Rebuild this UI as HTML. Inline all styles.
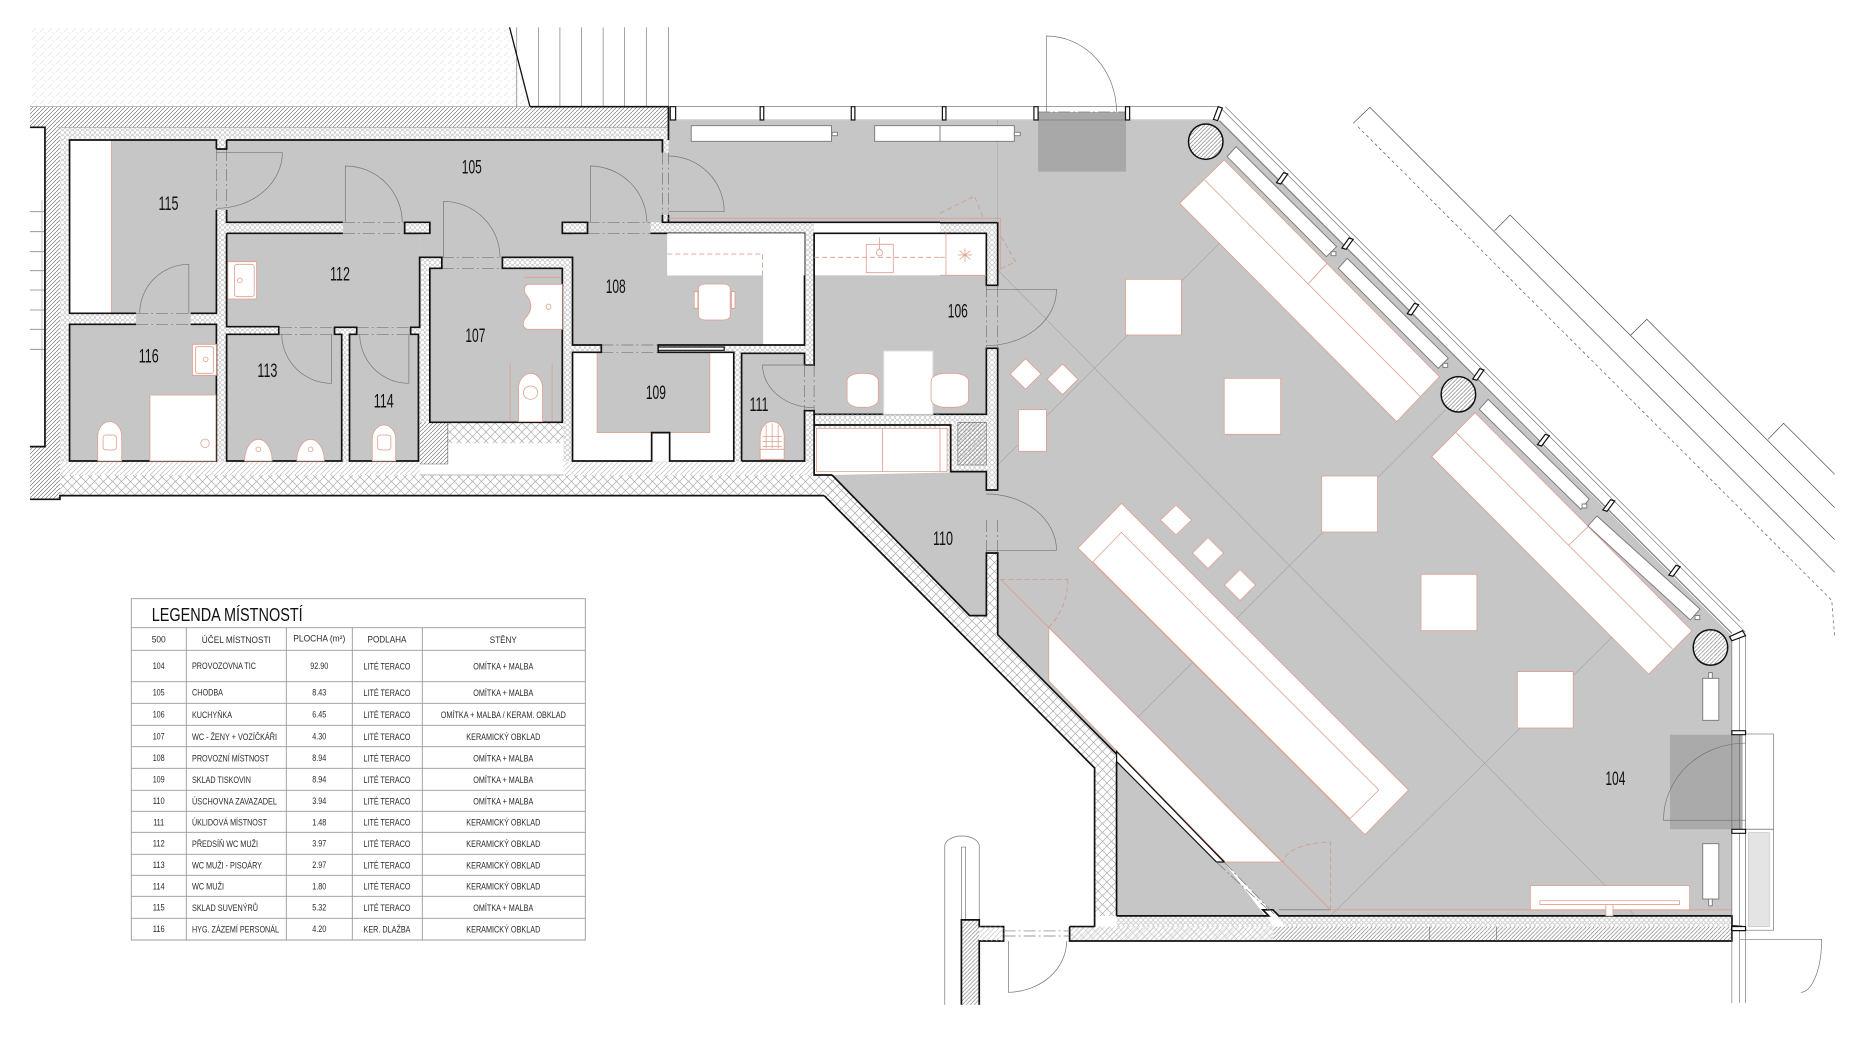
<!DOCTYPE html>
<html><head><meta charset="utf-8"><style>
html,body{margin:0;padding:0;background:#fff}
svg{display:block}
.t *{vector-effect:non-scaling-stroke}
text{font-family:"Liberation Sans",sans-serif;fill:#111}
.l text{font-size:8.8px;fill:#2a2a2a}
.rn{font-size:19px;text-anchor:middle}
.g{fill:#c6c6c6;stroke:none}
.k{fill:none;stroke:#111;stroke-width:1.7}
.dr{fill:none;stroke:#777;stroke-width:.7}
.s{fill:#fff;stroke:#dd9f8c;stroke-width:.8}
.sl{fill:none;stroke:#dd9f8c;stroke-width:.8}
.sd{fill:none;stroke:#d09a8a;stroke-width:.8;stroke-dasharray:5 3}
.dd{fill:none;stroke:#777;stroke-width:.7;stroke-dasharray:12 3 2 3}
.th{fill:none;stroke:#666;stroke-width:.6}
.gr{fill:none;stroke:#aaa;stroke-width:.6}
.bn{fill:#fff;stroke:#777;stroke-width:.9}
.m{fill:#fff;stroke:#111;stroke-width:1.2}
</style></head><body>
<svg width="1872" height="1046" viewBox="0 0 1872 1046" xmlns="http://www.w3.org/2000/svg">
<defs>
<pattern id="x" width="9" height="9" patternUnits="userSpaceOnUse"><path d="M-1 10L10 -1M-1 -1L10 10" stroke="#aaa" stroke-width=".7"/></pattern>
<pattern id="dA" width="4" height="4" patternUnits="userSpaceOnUse" patternTransform="scale(1.668 3)"><path d="M-1 5L5 -1" stroke="#777" stroke-width=".65"/></pattern>
<pattern id="dL" width="5" height="5" patternUnits="userSpaceOnUse" patternTransform="scale(1.668 3)"><path d="M-1 6L6 -1" stroke="#bdbdbd" stroke-width=".65"/></pattern>
<pattern id="xA" width="9" height="9" patternUnits="userSpaceOnUse" patternTransform="scale(1.668 3)"><path d="M-1 10L10 -1M-1 -1L10 10" stroke="#aaa" stroke-width=".7"/></pattern>
<pattern id="hA" width="5" height="5" patternUnits="userSpaceOnUse" patternTransform="scale(1.668 3)"><path d="M0 2.5L1.5 .5H3.5L5 2.5L3.5 4.5H1.5Z" fill="none" stroke="#b5b5b5" stroke-width=".55"/></pattern>
<pattern id="fA" width="8" height="8" patternUnits="userSpaceOnUse" patternTransform="scale(1.668 3)"><path d="M0 8L4 4M4 0L6 2" stroke="#e2e2e2" stroke-width=".7"/></pattern>
</defs>

<!-- main floor, real coordinates -->
<polygon class="g" points="668.5,120.7 1219.4,120.7 1732,635.7 1732,915.8 1276,915.8 1224,862 997.7,634.7 997.7,222.7 668.5,222.7"/>
<polygon class="g" points="1116.6,760 1224,862 1265,915.8 1116.6,915.8"/>
<polygon class="g" points="832,475 986.4,471.7 986.4,615.6 969.7,615.6"/>
<rect x="986" y="285" width="12" height="64" class="g"/><rect x="986" y="490" width="12" height="64" class="g"/>
<path d="M1219.4 243.3L997.7 465M1445.4 410L1138 717M1611.8 637.4L1330.6 915.8M997.7 270L1635 915.8" stroke="#a8a8a8" stroke-width=".7" fill="none"/>

<!-- LEFT BLOCK (crop A) -->
<g class="t" transform="scale(.5995 .33333)">
<polygon points="50,82 850,82 884,320 50,320" fill="url(#fA)"/>
<path d="M862 82V320M898 82V320M934 82V320M970 82V320M1006 82V320M1042 82V320M1078 82V320M1115 82V320" class="th"/>
<path d="M850 82L884 320" stroke="#111" stroke-width="1.3" fill="none"/>
<rect x="50" y="320" width="1065" height="62" fill="url(#dA)"/>
<rect x="100" y="382" width="1015" height="285" fill="url(#hA)"/>
<rect x="100" y="667" width="1258" height="718" fill="url(#hA)"/>
<rect x="100" y="1385" width="1260" height="40" fill="url(#dL)"/>
<rect x="100" y="1425" width="1290" height="62" fill="url(#xA)"/>
<rect x="75" y="382" width="25" height="1116" fill="url(#dA)"/>
<rect x="50" y="1340" width="25" height="158" fill="url(#dA)"/>
<path d="M50 635H75M50 695H75M50 755H75M50 812H75M50 870H75M50 930H75M50 988H75M50 1048H75" stroke="#888" stroke-width=".8" fill="none"/>
<path d="M70 600V1080" class="gr"/>
<path d="M50 320H884M97 382H1115" stroke="#999" stroke-width=".7" fill="none"/>
<path d="M884 320H1115V420" class="k"/>
<path d="M50 382H75V1340H50" class="k"/><path d="M50 1498H100V1487H1375" class="k"/>
<!-- rooms -->
<rect x="116" y="420" width="245" height="520" fill="#fff"/>
<rect x="186" y="420" width="175" height="520" class="g"/>
<path d="M186 420V940" class="sl"/>
<polygon class="g" points="378,420 1105,420 1105,667 938,667 938,700 955,700 955,772 700,772 700,700 717,700 717,667 378,667"/>
<rect x="378" y="700" width="322" height="280" class="g"/>
<rect x="116" y="973" width="245" height="410" class="g"/>
<rect x="378" y="1003" width="192" height="380" class="g"/>
<rect x="583" y="1003" width="115" height="380" class="g"/>
<rect x="717" y="805" width="221" height="462" class="g"/>
<rect x="955" y="700" width="387" height="335" fill="#fff"/>
<polygon class="g" points="955,700 1113,700 1113,826 1273,826 1273,1035 955,1035"/>
<rect x="955" y="1057" width="269" height="326" fill="#fff"/>
<rect x="996" y="1057" width="188" height="241" class="g"/>
<path d="M996 1057V1298H1184V1057" class="sl"/>
<rect x="1237" y="1060" width="105" height="323" class="g"/>
<rect x="1358" y="700" width="210" height="126" fill="#fff"/>
<rect x="1358" y="826" width="210" height="417" class="g"/>
<!-- door gaps -->
<g class="g">
<rect x="572" y="667" width="103" height="33"/><rect x="980" y="667" width="105" height="33"/>
<rect x="227" y="940" width="91" height="33"/><rect x="467" y="980" width="91" height="23"/>
<rect x="595" y="980" width="90" height="23"/><rect x="737" y="772" width="101" height="33"/>
<rect x="1003" y="1035" width="95" height="22"/><rect x="361" y="447" width="17" height="183"/>
<rect x="1105" y="458" width="10" height="187"/><rect x="1342" y="1095" width="16" height="137"/>
</g>
<g class="dd"><path d="M572 667H675M572 700H675M980 667H1085M980 700H1085M227 940H318M227 973H318M467 982H558M467 1003H558M595 982H685M595 1003H685M737 772H838M737 805H838M1003 1035H1098M1003 1057H1098M361 447V630M378 447V630M1105 458V645M1115 458V645M1342 1095V1232M1358 1095V1232"/></g>
<!-- white gap below 107 -->
<rect x="700" y="1267" width="240" height="158" fill="#fff"/>
<rect x="747" y="1267" width="193" height="63" fill="url(#xA)"/>
<rect x="700" y="1267" width="47" height="125" fill="url(#dA)"/>
<path d="M700 1392H747V1267" class="th"/>
<path d="M700 1425H940" stroke="#bbb" fill="none"/>
<!-- walls/outlines -->
<g class="k">
<path d="M361 447V420H116V940H227M318 940H361V630"/>
<path d="M378 420H1105V458M1105 645V667H1115V645M1115 667H1568"/>
<path d="M378 420V447H361M378 630V667H572M675 667H717V700H675ZM938 667H980V700H938Z"/>
<path d="M227 973H116V1383H361V973H318"/>
<path d="M378 700V980H465V1003H378V1383H570V1003H558V982H595V1003H583V1383H698V1003H685V982H700V772H737V805H717V1267H938V805H838V772H955V1035H1003V1057H955V1383H1087V1298H1117V1383H1224V1057H1098V1035H1342V700H1085M955 700H938M572 700H378M675 700H700"/>
<path d="M1237 1383H1342V1232H1358V1243H1568M1342 1095V1060H1237V1383M1342 1095H1358V700H1568"/>
</g>
<rect x="1098" y="1041" width="110" height="10" class="m"/>
<!-- doors -->
<g class="dr">
<path d="M361 458H471A110 167 0 0 1 361 625"/>
<path d="M576 667V498A95 170 0 0 1 671 667"/>
<path d="M740 772V604A95 168 0 0 1 834 772"/>
<path d="M985 667V498A95 170 0 0 1 1079 667"/>
<path d="M1115 468A93 167 0 0 1 1208 635H1115"/>
<path d="M315 940V793A82 147 0 0 0 233 940"/>
<path d="M470 1003A83 148 0 0 0 553 1150V1003"/>
<path d="M682 1003V1150A82 148 0 0 1 600 1003"/>
<path d="M1358 1095H1272A86 128 0 0 0 1358 1223"/>
</g>
<!-- furniture -->
<rect x="380" y="785" width="48" height="112" class="s"/><rect x="391" y="793" width="33" height="97" rx="6" class="s"/><ellipse cx="400" cy="841" rx="4" ry="7" class="s"/>
<rect x="321" y="1033" width="40" height="93" class="s"/><rect x="326" y="1040" width="30" height="80" rx="5" class="s"/><ellipse cx="343" cy="1078" rx="4" ry="7" class="s"/>
<rect x="250" y="1185" width="110" height="198" class="s"/><ellipse cx="342" cy="1330" rx="7" ry="13" class="s"/>
<path d="M163 1383V1310A20 45 0 0 1 203 1310V1383Z" class="s"/><rect x="172" y="1305" width="22" height="45" rx="6" class="s"/>
<path d="M408 1383A23 65 0 0 1 454 1383Z" class="s"/><ellipse cx="431" cy="1348" rx="4" ry="7" class="s"/>
<path d="M495 1383A23 65 0 0 1 541 1383Z" class="s"/><ellipse cx="518" cy="1348" rx="4" ry="7" class="s"/>
<path d="M621 1383V1310A20 45 0 0 1 660 1310V1383Z" class="s"/><rect x="630" y="1305" width="22" height="45" rx="6" class="s"/>
<path d="M880 853H938V988H880Q868 980 876 955Q895 920 876 880Q872 860 880 853Z" class="s"/><ellipse cx="915" cy="920" rx="4" ry="8" class="s"/>
<path d="M875 832H935" class="sl" stroke-width="1.5"/>
<path d="M851 1090V1265M921 1090V1265" class="sl"/>
<path d="M865 1265V1165A20 45 0 0 1 905 1165V1265Z" class="s"/><ellipse cx="885" cy="1178" rx="12" ry="20" class="s"/>
<rect x="1113" y="700" width="229" height="126" fill="#fff"/>
<path d="M1113 762H1272V826" class="sd"/>
<rect x="1165" y="852" width="53" height="108" rx="12" class="s"/><rect x="1158" y="875" width="6" height="50" class="s"/><rect x="1220" y="875" width="6" height="50" class="s"/>
<path d="M1268 1378V1310A20 45 0 0 1 1308 1310V1378Z" class="s"/><path d="M1272 1310H1304M1272 1325H1304M1272 1340H1304M1278 1275V1345M1288 1270V1345M1298 1275V1345" class="sl"/>
<rect x="1268" y="1348" width="40" height="30" class="s"/>
<rect x="1445" y="733" width="45" height="85" class="s"/><ellipse cx="1467" cy="758" rx="5" ry="10" class="s"/><path d="M1467 712V748" class="sl"/>
<path d="M1358 772H1568" class="sd"/>
<rect x="1474" y="1053" width="82" height="190" fill="#fff" stroke="#ddd"/>
<rect x="1413" y="1120" width="52" height="102" rx="22" class="s"/>
<!-- top benches -->
<rect x="1153" y="377" width="234" height="47" class="bn"/><rect x="1388" y="397" width="9" height="10" class="bn"/>
<rect x="1459" y="377" width="109" height="47" fill="#fff"/><path d="M1568 377H1459V424H1568" class="bn" fill="none"/>
<path d="M1115 655H1568" class="sl"/>
<path d="M1115 320H1568M1115 360H1568" class="th"/>
<rect x="1118" y="320" width="9" height="40" class="m"/><rect x="1268" y="320" width="6" height="40" class="m"/><rect x="1420" y="320" width="6" height="40" class="m"/>
<!-- storage 110 top -->
<rect x="1362" y="1285" width="206" height="130" class="s"/><path d="M1472 1285V1415" class="sl"/>
<rect x="1358" y="1243" width="210" height="42" fill="url(#hA)"/>
<path d="M1358 1275H1568" class="k"/>
<path d="M1358 1243V1425H1388" class="k"/>
</g>

<!-- RIGHT TOP (crop B) -->
<g class="t" transform="translate(940 0) scale(.5945 .33333)">
<rect x="0" y="700" width="78" height="126" fill="#fff"/>
<rect x="0" y="826" width="78" height="417" class="g"/>
<rect x="78" y="668" width="19" height="188" fill="url(#hA)"/>
<rect x="0" y="668" width="78" height="32" fill="url(#hA)"/>
<rect x="78" y="1045" width="19" height="425" fill="url(#hA)"/>
<rect x="0" y="1243" width="78" height="30" fill="url(#hA)"/>
<rect x="12" y="1273" width="66" height="142" fill="url(#hA)"/>
<rect x="30" y="1267" width="48" height="128" fill="url(#dA)"/><rect x="30" y="1267" width="48" height="128" class="th"/>
<rect x="0" y="1285" width="12" height="130" class="s"/>
<path d="M0 700H78V856H97V668H0" class="k"/>
<path d="M0 1243H78V1045H97V1470H78V1415H18V1275H0" class="k"/>
<path d="M10 700V826M0 826H78M0 772H8" class="sl"/><path d="M30 765H54M42 745V785M33 752L51 778M51 752L33 778" class="sl"/>
<rect x="-15" y="1120" width="63" height="102" rx="24" class="s"/>
<path d="M0 655H102V810" class="sl"/>
<path d="M0 640L58 588L73 655M103 710L127 785L100 808" class="sd"/>
<path d="M78 856V1045" class="dd"/><path d="M97 856V1045" class="dd"/>
<path d="M97 360V668" class="gr"/>
<!-- top door zone -->
<rect x="165" y="336" width="148" height="179" fill="#a8a8a8"/>
<path d="M179 336V108A118 228 0 0 1 297 336" class="dr"/>
<path d="M165 336H313" class="dd"/>
<rect x="0" y="377" width="125" height="47" class="bn"/><rect x="125" y="397" width="10" height="10" class="bn"/>
<path d="M78 868H196A118 169 0 0 1 78 1037" class="dr"/>
<path d="M78 1482A118 169 0 0 1 196 1651H78" class="dr"/>
<path d="M0 320H470M0 360H462" class="th"/>
<path d="M470 320L1355 1897M480 320L1345 1863" class="th"/>
<path d="M470 362L1332 1900" stroke="#858585" stroke-width="1.3" fill="none"/>
<!-- column and mullions -->
<ellipse cx="447" cy="425" rx="29" ry="53" fill="#fff"/><ellipse cx="447" cy="425" rx="29" ry="53" fill="url(#dA)" stroke="#111" stroke-width="1.5"/>
<ellipse cx="872" cy="1183" rx="29" ry="53" fill="#fff"/><ellipse cx="872" cy="1183" rx="29" ry="53" fill="url(#dA)" stroke="#111" stroke-width="1.5"/>
<g class="m">
<rect x="4" y="320" width="6" height="40"/><rect x="158" y="320" width="7" height="40"/><rect x="312" y="320" width="7" height="40"/>
<polygon points="468,320 475,324 467,362 460,358"/>
<polygon points="578,518 585,522 573,552 566,548"/>
<polygon points="688,714 695,718 683,748 676,744"/>
<polygon points="798,910 805,914 793,945 786,941"/>
<polygon points="908,1106 915,1110 903,1141 896,1137"/>
<polygon points="1018,1303 1025,1307 1012,1338 1005,1334"/>
<polygon points="1128,1499 1135,1503 1122,1534 1115,1530"/>
</g>
<!-- window benches -->
<polygon class="bn" points="498,440 667,740 650,770 483,470"/><rect x="658" y="755" width="8" height="12" class="bn"/>
<polygon class="bn" points="685,775 855,1075 838,1105 670,805"/><rect x="846" y="1090" width="8" height="12" class="bn"/>
<polygon class="bn" points="922,1198 1092,1497 1078,1528 907,1228"/><rect x="1080" y="1512" width="8" height="12" class="bn"/>
<!-- exterior steps -->
<path d="M695 370L723 322L1505 1717M933 692L959 645L1505 1619M1162 1005L1189 958L1505 1523M1393 1318L1419 1270L1505 1423" fill="none" stroke="#333" stroke-width=".6"/>
<path d="M703 380L1500 1801L1505 1912" fill="none" stroke="#444" stroke-width=".6" stroke-dasharray="3 3"/>
</g>

<!-- tables, shelves, real coordinates -->
<g>
<polygon class="s" points="1224.2,160 1439.5,376.7 1396.6,421.7 1179.6,203.3"/>
<path d="M1204.6,180 L1420.5,396.7 M1327,263.3 L1308.6,283.3" class="sl"/>
<polygon class="s" points="1475,412.7 1692,630.7 1648.7,674.3 1431.7,456.7"/>
<path d="M1456,432.7L1672.5,649M1588,526.7L1569,545" class="sl"/>
<polygon class="s" points="1121.5,503.3 1408.5,790 1365,834.7 1078,548"/>
<polygon class="s" points="1121.3,532.4 1378.8,790 1350,818.6 1092.8,562"/>
<polygon class="s" points="1048.8,627.3 1282,862 1225.4,862 1048.8,681"/>
<polygon class="bn" points="1597,516 1700,609 1690.3,620 1588,526"/>
<rect x="1125.5" y="279.3" width="55.9" height="55.7" class="s"/>
<rect x="1224.2" y="378.3" width="56.5" height="56" class="s"/>
<rect x="1321.7" y="476" width="55.9" height="56" class="s"/>
<rect x="1421" y="574.3" width="55.9" height="56.4" class="s"/>
<rect x="1517.3" y="671.6" width="55.9" height="56.4" class="s"/>
<rect x="1018.5" y="409.7" width="27.9" height="41.6" class="s"/>
<polygon class="s" points="1025.6,358.7 1041,374 1025.6,389.3 1010.2,374"/>
<polygon class="s" points="1062.5,364 1078,379.3 1062.5,394.7 1047,379.3"/>
<polygon class="s" points="1176,505 1191.5,520 1176,535 1160.5,520"/>
<polygon class="s" points="1208,537.5 1223.5,553 1208,568.5 1192.5,553"/>
<polygon class="s" points="1240,569.5 1255.5,585 1240,600.5 1224.5,585"/>
</g>

<!-- wall diag, real -->
<polygon points="824.3,495.7 832,475 969.7,615.6 986.4,615.6 986.4,553 997.7,553 997.7,634.7 1116.6,753 1116.6,916 1094.6,916 1094.6,768" fill="url(#x)"/>
<path d="M824.3 495.7L1094.6 768V927M832 475L969.7 615.6H986.4V553H997.7V634.7L1224 862" fill="none" stroke="#111" stroke-width="1.7"/>
<polygon points="1116.6,751.5 1224,862 1216.5,862 1116.6,761.5" fill="#fff" stroke="#111" stroke-width="1.2"/>

<!-- RIGHT BOTTOM (crop C) -->
<g class="t" transform="translate(940 520) scale(.5945 .33546)">
<path d="M78 0V100" class="dd"/><path d="M97 0V100" class="dd"/>
<path d="M102 177H215M215 177A110 200 0 0 1 183 320" class="sd"/>
<path d="M297 1180V720" class="k"/>
<rect x="297" y="1182" width="1035" height="30" fill="url(#hA)"/>
<rect x="218" y="1212" width="342" height="43" fill="url(#dL)"/>
<rect x="218" y="1212" width="342" height="43" fill="url(#xA)" opacity=".5"/>
<rect x="560" y="1212" width="772" height="43" fill="url(#dA)"/>
<polygon points="543,1162 560,1162 580,1212 560,1212" fill="#fff"/>
<path d="M297 1180H553L543 1162H560L570 1180H1332V1210L1350 1212" class="k"/>
<path d="M218 1212H260M218 1212V1255H1332V1180" class="k"/>
<path d="M823 1212V1255M936 1212V1255" class="th"/>
<path d="M478 1020L565 1180M465 1020L552 1162" class="dd"/>
<path d="M570 1162H657" stroke="#888" stroke-width="1" fill="none"/>
<path d="M657 1162H1332M102 177L657 1162" class="sl"/>
<path d="M657 1162V960A80 60 0 0 0 578 1020" class="sd"/>
<!-- door zone -->
<rect x="1228" y="640" width="122" height="282" fill="#aaa"/>
<path d="M1355 895H1217A138 230 0 0 1 1355 665" class="dr" stroke="#555"/>
<rect x="1283" y="472" width="27" height="125" class="bn"/><rect x="1293" y="455" width="6" height="17" class="bn"/>
<rect x="1283" y="965" width="27" height="165" class="bn"/><rect x="1293" y="1130" width="6" height="20" class="bn"/>
<rect x="993" y="1090" width="268" height="72" class="s"/><rect x="1009" y="1135" width="235" height="11" class="s"/><rect x="1120" y="1146" width="12" height="34" class="s"/>
<path d="M1332 345V1440M1345 345V1440M1355 345V1440" class="th"/>
<rect x="1355" y="638" width="47" height="284" fill="#fff" stroke="#888" stroke-width=".8"/>
<rect x="1355" y="922" width="47" height="301" fill="#fff" stroke="#888" stroke-width=".8"/>
<rect x="1360" y="932" width="35" height="280" fill="#e4e4e4" stroke="#bbb" stroke-width=".6"/>
<g class="m">
<rect x="1332" y="628" width="23" height="12"/><rect x="1332" y="922" width="23" height="12"/><rect x="1332" y="1212" width="23" height="12"/>
<polygon points="1350,330 1355,345 1332,360 1328,348"/>
<polygon points="1238,135 1245,139 1233,168 1226,164"/>
</g>
<ellipse cx="1296" cy="380" rx="29" ry="53" fill="#fff"/><ellipse cx="1296" cy="380" rx="29" ry="53" fill="url(#dA)" stroke="#111" stroke-width="1.5"/>
<rect x="1270" y="285" width="8" height="12" class="bn"/>
<path d="M1345 1250H1483A35 158 0 0 1 1448 1408" class="dr"/>
<!-- bottom left entry -->
<path d="M8 1445V972A29 30 0 0 1 66 972V1192" class="dr"/>
<path d="M36 1192V975H43V1192" class="dr"/>
<rect x="36" y="1192" width="30" height="253" fill="url(#dA)"/>
<path d="M36 1445V1192H66V1212H107V1255H66V1445" class="k"/>
<rect x="66" y="1212" width="41" height="43" fill="url(#dL)"/>
<path d="M107 1225H218M107 1240H218" class="dd"/>
<path d="M115 1255V1408A100 153 0 0 0 213 1255" class="dr"/>
</g>

<!-- room labels -->
<text class="rn" x="471.8" y="173.5" textLength="20" lengthAdjust="spacingAndGlyphs">105</text>
<text class="rn" x="168.5" y="210" textLength="20" lengthAdjust="spacingAndGlyphs">115</text>
<text class="rn" x="340" y="280.5" textLength="20" lengthAdjust="spacingAndGlyphs">112</text>
<text class="rn" x="615.7" y="293" textLength="20" lengthAdjust="spacingAndGlyphs">108</text>
<text class="rn" x="475.4" y="342" textLength="20" lengthAdjust="spacingAndGlyphs">107</text>
<text class="rn" x="148.7" y="362.5" textLength="20" lengthAdjust="spacingAndGlyphs">116</text>
<text class="rn" x="267.4" y="377" textLength="20" lengthAdjust="spacingAndGlyphs">113</text>
<text class="rn" x="655.9" y="399" textLength="20" lengthAdjust="spacingAndGlyphs">109</text>
<text class="rn" x="383.7" y="407.5" textLength="20" lengthAdjust="spacingAndGlyphs">114</text>
<text class="rn" x="759" y="411" textLength="19" lengthAdjust="spacingAndGlyphs">111</text>
<text class="rn" x="957.8" y="317.5" textLength="20" lengthAdjust="spacingAndGlyphs">106</text>
<text class="rn" x="943" y="545" textLength="20" lengthAdjust="spacingAndGlyphs">110</text>
<text class="rn" x="1615.4" y="785" textLength="20" lengthAdjust="spacingAndGlyphs">104</text>

<!-- legend -->
<g class="l">
<path d="M131.3 598.7H585.3V940H131.3ZM131.3 627.7H585.3M131.3 650.3H585.3M131.3 681.7H585.3M131.3 703.3H585.3M131.3 725.3H585.3M131.3 746.7H585.3M131.3 768.3H585.3M131.3 790.3H585.3M131.3 811.3H585.3M131.3 832.3H585.3M131.3 854.3H585.3M131.3 875.3H585.3M131.3 896.3H585.3M131.3 918.3H585.3M186.3 627.7V940M286.3 627.7V940M352.3 627.7V940M422.3 627.7V940" fill="none" stroke="#999" stroke-width=".9"/>
<text x="151.7" y="621" style="font-size:18px;fill:#111" textLength="151" lengthAdjust="spacingAndGlyphs">LEGENDA MÍSTNOSTÍ</text>
<text x="158.7" y="642.5" text-anchor="middle" textLength="14" lengthAdjust="spacingAndGlyphs">500</text>
<text x="236.3" y="643" text-anchor="middle" textLength="69" lengthAdjust="spacingAndGlyphs">ÚČEL MÍSTNOSTI</text>
<text x="319.3" y="641.5" text-anchor="middle" textLength="52" lengthAdjust="spacingAndGlyphs">PLOCHA (m²)</text>
<text x="387" y="642.5" text-anchor="middle" textLength="39" lengthAdjust="spacingAndGlyphs">PODLAHA</text>
<text x="503.3" y="643" text-anchor="middle" textLength="27" lengthAdjust="spacingAndGlyphs">STĚNY</text>

<text x="158.7" y="669" text-anchor="middle" textLength="12" lengthAdjust="spacingAndGlyphs">104</text><text x="192" y="669" textLength="64" lengthAdjust="spacingAndGlyphs">PROVOZOVNA TIC</text><text x="319.3" y="669" text-anchor="middle" textLength="18" lengthAdjust="spacingAndGlyphs">92.90</text><text x="387" y="669.5" text-anchor="middle" textLength="47" lengthAdjust="spacingAndGlyphs">LITÉ TERACO</text><text x="503.3" y="669.5" text-anchor="middle" textLength="60" lengthAdjust="spacingAndGlyphs">OMÍTKA + MALBA</text>
<text x="158.7" y="695.7" text-anchor="middle" textLength="12" lengthAdjust="spacingAndGlyphs">105</text><text x="192" y="695.7" textLength="31" lengthAdjust="spacingAndGlyphs">CHODBA</text><text x="319.3" y="695.7" text-anchor="middle" textLength="14" lengthAdjust="spacingAndGlyphs">8.43</text><text x="387" y="696" text-anchor="middle" textLength="47" lengthAdjust="spacingAndGlyphs">LITÉ TERACO</text><text x="503.3" y="696" text-anchor="middle" textLength="60" lengthAdjust="spacingAndGlyphs">OMÍTKA + MALBA</text>
<text x="158.7" y="717.7" text-anchor="middle" textLength="12" lengthAdjust="spacingAndGlyphs">106</text><text x="192" y="718" textLength="40" lengthAdjust="spacingAndGlyphs">KUCHYŇKA</text><text x="319.3" y="717.7" text-anchor="middle" textLength="14" lengthAdjust="spacingAndGlyphs">6.45</text><text x="387" y="718" text-anchor="middle" textLength="47" lengthAdjust="spacingAndGlyphs">LITÉ TERACO</text><text x="503.3" y="718" text-anchor="middle" textLength="125" lengthAdjust="spacingAndGlyphs">OMÍTKA + MALBA / KERAM. OBKLAD</text>
<text x="158.7" y="739.5" text-anchor="middle" textLength="12" lengthAdjust="spacingAndGlyphs">107</text><text x="192" y="740" textLength="85" lengthAdjust="spacingAndGlyphs">WC - ŽENY + VOZÍČKÁŘI</text><text x="319.3" y="739.5" text-anchor="middle" textLength="14" lengthAdjust="spacingAndGlyphs">4.30</text><text x="387" y="740" text-anchor="middle" textLength="47" lengthAdjust="spacingAndGlyphs">LITÉ TERACO</text><text x="503.3" y="740" text-anchor="middle" textLength="74" lengthAdjust="spacingAndGlyphs">KERAMICKÝ OBKLAD</text>
<text x="158.7" y="761" text-anchor="middle" textLength="12" lengthAdjust="spacingAndGlyphs">108</text><text x="192" y="761.5" textLength="77" lengthAdjust="spacingAndGlyphs">PROVOZNÍ MÍSTNOST</text><text x="319.3" y="761" text-anchor="middle" textLength="14" lengthAdjust="spacingAndGlyphs">8.94</text><text x="387" y="761.5" text-anchor="middle" textLength="47" lengthAdjust="spacingAndGlyphs">LITÉ TERACO</text><text x="503.3" y="761.5" text-anchor="middle" textLength="60" lengthAdjust="spacingAndGlyphs">OMÍTKA + MALBA</text>
<text x="158.7" y="782.7" text-anchor="middle" textLength="12" lengthAdjust="spacingAndGlyphs">109</text><text x="192" y="783" textLength="59" lengthAdjust="spacingAndGlyphs">SKLAD TISKOVIN</text><text x="319.3" y="782.7" text-anchor="middle" textLength="14" lengthAdjust="spacingAndGlyphs">8.94</text><text x="387" y="783" text-anchor="middle" textLength="47" lengthAdjust="spacingAndGlyphs">LITÉ TERACO</text><text x="503.3" y="783" text-anchor="middle" textLength="60" lengthAdjust="spacingAndGlyphs">OMÍTKA + MALBA</text>
<text x="158.7" y="804" text-anchor="middle" textLength="12" lengthAdjust="spacingAndGlyphs">110</text><text x="192" y="804.5" textLength="85" lengthAdjust="spacingAndGlyphs">ÚSCHOVNA ZAVAZADEL</text><text x="319.3" y="804" text-anchor="middle" textLength="14" lengthAdjust="spacingAndGlyphs">3.94</text><text x="387" y="804.5" text-anchor="middle" textLength="47" lengthAdjust="spacingAndGlyphs">LITÉ TERACO</text><text x="503.3" y="804.5" text-anchor="middle" textLength="60" lengthAdjust="spacingAndGlyphs">OMÍTKA + MALBA</text>
<text x="158.7" y="825.3" text-anchor="middle" textLength="11" lengthAdjust="spacingAndGlyphs">111</text><text x="192" y="825.5" textLength="75" lengthAdjust="spacingAndGlyphs">ÚKLIDOVÁ MÍSTNOST</text><text x="319.3" y="825.3" text-anchor="middle" textLength="14" lengthAdjust="spacingAndGlyphs">1.48</text><text x="387" y="825.5" text-anchor="middle" textLength="47" lengthAdjust="spacingAndGlyphs">LITÉ TERACO</text><text x="503.3" y="825.5" text-anchor="middle" textLength="74" lengthAdjust="spacingAndGlyphs">KERAMICKÝ OBKLAD</text>
<text x="158.7" y="846.7" text-anchor="middle" textLength="12" lengthAdjust="spacingAndGlyphs">112</text><text x="192" y="847" textLength="66" lengthAdjust="spacingAndGlyphs">PŘEDSÍŇ WC MUŽI</text><text x="319.3" y="846.7" text-anchor="middle" textLength="14" lengthAdjust="spacingAndGlyphs">3.97</text><text x="387" y="847" text-anchor="middle" textLength="47" lengthAdjust="spacingAndGlyphs">LITÉ TERACO</text><text x="503.3" y="847" text-anchor="middle" textLength="74" lengthAdjust="spacingAndGlyphs">KERAMICKÝ OBKLAD</text>
<text x="158.7" y="868" text-anchor="middle" textLength="12" lengthAdjust="spacingAndGlyphs">113</text><text x="192" y="868.5" textLength="70" lengthAdjust="spacingAndGlyphs">WC MUŽI - PISOÁRY</text><text x="319.3" y="868" text-anchor="middle" textLength="14" lengthAdjust="spacingAndGlyphs">2.97</text><text x="387" y="868.5" text-anchor="middle" textLength="47" lengthAdjust="spacingAndGlyphs">LITÉ TERACO</text><text x="503.3" y="868.5" text-anchor="middle" textLength="74" lengthAdjust="spacingAndGlyphs">KERAMICKÝ OBKLAD</text>
<text x="158.7" y="889.3" text-anchor="middle" textLength="12" lengthAdjust="spacingAndGlyphs">114</text><text x="192" y="889.7" textLength="32" lengthAdjust="spacingAndGlyphs">WC MUŽI</text><text x="319.3" y="889.3" text-anchor="middle" textLength="14" lengthAdjust="spacingAndGlyphs">1.80</text><text x="387" y="889.7" text-anchor="middle" textLength="47" lengthAdjust="spacingAndGlyphs">LITÉ TERACO</text><text x="503.3" y="889.7" text-anchor="middle" textLength="74" lengthAdjust="spacingAndGlyphs">KERAMICKÝ OBKLAD</text>
<text x="158.7" y="910.7" text-anchor="middle" textLength="12" lengthAdjust="spacingAndGlyphs">115</text><text x="192" y="911" textLength="66" lengthAdjust="spacingAndGlyphs">SKLAD SUVENÝRŮ</text><text x="319.3" y="910.7" text-anchor="middle" textLength="14" lengthAdjust="spacingAndGlyphs">5.32</text><text x="387" y="911" text-anchor="middle" textLength="47" lengthAdjust="spacingAndGlyphs">LITÉ TERACO</text><text x="503.3" y="911" text-anchor="middle" textLength="60" lengthAdjust="spacingAndGlyphs">OMÍTKA + MALBA</text>
<text x="158.7" y="932.2" text-anchor="middle" textLength="12" lengthAdjust="spacingAndGlyphs">116</text><text x="192" y="932.5" textLength="87" lengthAdjust="spacingAndGlyphs">HYG. ZÁZEMÍ PERSONÁL</text><text x="319.3" y="932.2" text-anchor="middle" textLength="14" lengthAdjust="spacingAndGlyphs">4.20</text><text x="387" y="932.5" text-anchor="middle" textLength="47" lengthAdjust="spacingAndGlyphs">KER. DLAŽBA</text><text x="503.3" y="932.5" text-anchor="middle" textLength="74" lengthAdjust="spacingAndGlyphs">KERAMICKÝ OBKLAD</text>
</g>
</svg>
</body></html>
